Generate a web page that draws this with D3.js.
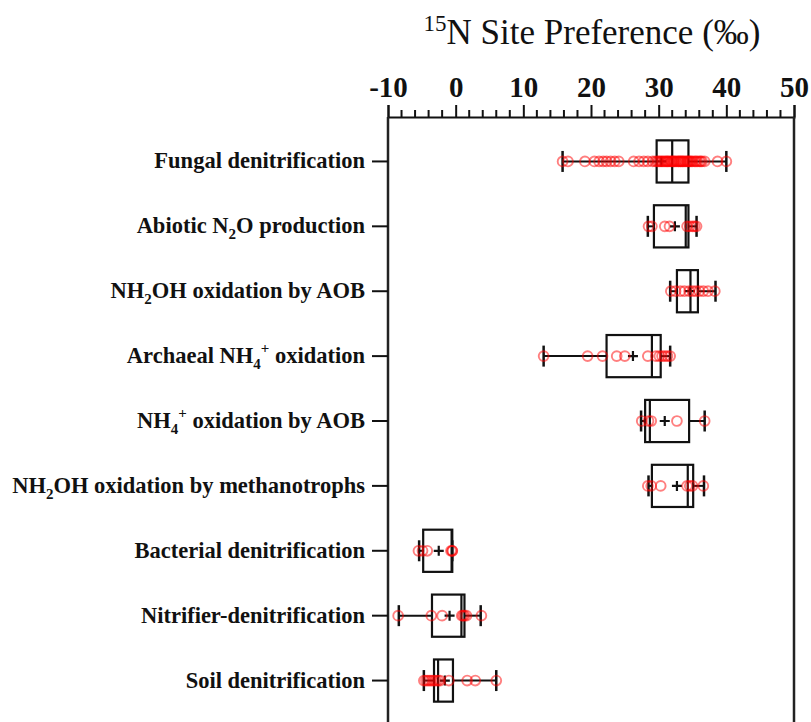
<!DOCTYPE html>
<html>
<head>
<meta charset="utf-8">
<script src="https://cdn.jsdelivr.net/npm/d3@7"></script>
<style>
  body { margin: 0; background: #fff; }
  svg { display: block; font-family: "Liberation Serif", "Times New Roman", serif; }
</style>
</head>
<body>
<div id="chart"></div>
<script>
// categories, "_x" = subscript, "^x" = superscript
var categories = [
  "Fungal denitrification",
  "Abiotic N_2O production",
  "NH_2OH oxidation by AOB",
  "Archaeal NH_4^+ oxidation",
  "NH_4^+ oxidation by AOB",
  "NH_2OH oxidation by methanotrophs",
  "Bacterial denitrification",
  "Nitrifier-denitrification",
  "Soil denitrification"
];

var whiskerLow  = [15.8, 28.4, 31.7, 13.0, 27.4, 28.5, -5.4, -8.4, -4.7];
var q1          = [29.7, 29.3, 32.7, 22.3, 28.0, 29.0, -4.8, -3.5, -3.2];
var median      = [32.0, 34.0, 34.7, 29.0, 28.7, 34.3, -0.6, 0.85, -2.6];
var q3          = [34.4, 34.4, 35.8, 30.3, 34.5, 35.1, -0.5, 1.3, -0.4];
var whiskerHigh = [40.0, 35.6, 38.4, 31.7, 36.8, 36.7, -0.5, 3.7, 6.0];
var means       = [30.4, 32.4, 34.6, 26.2, 30.9, 32.7, -2.5, -0.9, -1.6];

var points = [
  [15.8, 16.6, 19.1, 20.5, 21.2, 21.8, 22.3, 22.9, 23.5, 24.1, 26.3, 27.1, 27.8, 28.4, 29.1,
   29.5, 29.8, 30.0, 30.2, 30.4, 30.6, 30.8, 31.0, 31.2, 31.3, 31.5, 31.7, 31.9, 32.0, 32.2,
   32.3, 32.5, 32.7, 32.9, 33.0, 33.2, 33.3, 33.5, 33.6, 33.8, 34.0, 34.2, 34.3, 34.5, 34.6,
   34.8, 35.0, 35.3, 35.5, 35.7, 36.0, 36.2, 36.4, 36.8, 38.7, 40.0],
  [28.5, 29.0, 30.9, 31.6, 34.2, 34.6, 35.0, 35.3, 35.6],
  [31.8, 32.5, 33.2, 33.8, 34.5, 35.0, 35.5, 36.0, 36.6, 37.3, 38.3],
  [13.0, 19.5, 21.7, 23.8, 25.0, 28.4, 29.6, 30.1, 30.5, 30.9, 31.3, 31.7],
  [27.5, 28.5, 28.9, 32.7, 36.8],
  [28.4, 28.9, 30.3, 34.2, 34.6, 35.0, 36.6],
  [-5.5, -4.9, -4.2, -0.7, -0.5, -0.5],
  [-8.5, -3.6, -2.0, 0.9, 1.1, 1.3, 1.6, 3.8],
  [-4.7, -4.4, -4.1, -3.8, -3.5, -3.2, -2.9, -2.6, -2.3, -1.0, 1.7, 2.9, 6.0]
];

var xTicks = [-10, 0, 10, 20, 30, 40, 50];

var width = 811, height = 722;
var margin = { top: 117, left: 388, right: 17 };

var svg = d3.select('#chart').append('svg')
  .attr('width', width)
  .attr('height', height);

var x = d3.scaleLinear()
  .domain([-10, 50])
  .range([margin.left, width - margin.right]);

var y = d3.scaleBand()
  .domain(categories)
  .range([129, 713]);

var boxH = y.step() * 0.65;
var capH = 21;

// minor ticks every 2
var minor = d3.range(-10, 50.01, 2).filter(v => xTicks.indexOf(v) < 0);
svg.append('g').selectAll('line')
  .data(minor)
  .enter().append('line')
  .attr('x1', d => x(d)).attr('x2', d => x(d))
  .attr('y1', margin.top).attr('y2', margin.top - 7)
  .attr('stroke', '#111').attr('stroke-width', 2);

var xAxis = svg.append('g')
  .attr('transform', 'translate(0,' + margin.top + ')')
  .call(d3.axisTop(x).tickValues(xTicks).tickFormat(d => String(d))
    .tickSize(12).tickSizeOuter(12).tickPadding(8));
xAxis.selectAll('line, path').attr('stroke', '#111').attr('stroke-width', 2);
xAxis.selectAll('text')
  .attr('fill', '#111')
  .style('font-family', '"Liberation Serif", "Times New Roman", serif')
  .style('font-weight', 'bold')
  .style('font-size', '29px');

// frame sides
svg.append('g').selectAll('line')
  .data([-10, 50])
  .enter().append('line')
  .attr('x1', d => x(d)).attr('x2', d => x(d))
  .attr('y1', margin.top).attr('y2', height)
  .attr('stroke', '#222').attr('stroke-width', 2.5);

// left axis with rich labels
var yAxis = svg.append('g')
  .attr('transform', 'translate(' + margin.left + ',0)')
  .call(d3.axisLeft(y).tickSize(16).tickPadding(7));
yAxis.select('.domain').remove();
yAxis.selectAll('line').attr('stroke', '#111').attr('stroke-width', 2);
yAxis.selectAll('text').each(function(d) {
  var t = d3.select(this).text(null)
    .attr('fill', '#111')
    .attr('dy', null)
    .attr('y', 7)
    .style('font-family', '"Liberation Serif", "Times New Roman", serif')
    .style('font-weight', 'bold')
    .style('font-size', '22.5px');
  var parts = d.split(/(_[^ ^_]|\^[^ ^_])/).filter(s => s.length);
  var shift = 0;
  parts.forEach(function(p) {
    var target = 0, txt = p, small = false;
    if (p[0] === '_') { target = 6; txt = p.slice(1); small = true; }
    else if (p[0] === '^') { target = -10; txt = p.slice(1); small = true; }
    t.append('tspan')
      .attr('dy', target - shift)
      .style('font-size', small ? '15px' : null)
      .text(txt);
    shift = target;
  });
});

// boxes
var rows = categories.map((c, i) => ({
  cat: c, lo: whiskerLow[i], q1: q1[i], med: median[i], q3: q3[i],
  hi: whiskerHigh[i], mean: means[i], pts: points[i]
}));

var g = svg.selectAll('.box')
  .data(rows)
  .enter().append('g')
  .attr('class', 'box')
  .attr('transform', d => 'translate(0,' + (y(d.cat) + y.bandwidth() / 2) + ')');

g.append('line')
  .attr('x1', d => x(d.lo)).attr('x2', d => x(d.q1))
  .attr('y1', 0).attr('y2', 0)
  .attr('stroke', '#111').attr('stroke-width', 2);
g.append('line')
  .attr('x1', d => x(d.q3)).attr('x2', d => x(d.hi))
  .attr('y1', 0).attr('y2', 0)
  .attr('stroke', '#111').attr('stroke-width', 2);
g.selectAll('.cap')
  .data(d => [d.lo, d.hi])
  .enter().append('line')
  .attr('class', 'cap')
  .attr('x1', v => x(v)).attr('x2', v => x(v))
  .attr('y1', -capH / 2).attr('y2', capH / 2)
  .attr('stroke', '#111').attr('stroke-width', 2.5);

g.append('rect')
  .attr('x', d => x(d.q1))
  .attr('width', d => x(d.q3) - x(d.q1))
  .attr('y', -boxH / 2)
  .attr('height', boxH)
  .attr('fill', 'none')
  .attr('stroke', '#111').attr('stroke-width', 2.2);
g.append('line')
  .attr('x1', d => x(d.med)).attr('x2', d => x(d.med))
  .attr('y1', -boxH / 2).attr('y2', boxH / 2)
  .attr('stroke', '#111').attr('stroke-width', 2.2);

// mean cross
g.append('path')
  .attr('d', d => {
    var cx = x(d.mean);
    return 'M' + (cx - 5) + ',0H' + (cx + 5) + 'M' + cx + ',-5V5';
  })
  .attr('stroke', '#111').attr('stroke-width', 2.2);

// data points
g.selectAll('circle')
  .data(d => d.pts)
  .enter().append('circle')
  .attr('cx', v => x(v))
  .attr('cy', 0)
  .attr('r', 4.9)
  .attr('fill', 'none')
  .attr('stroke', 'red')
  .attr('stroke-opacity', 0.5)
  .attr('stroke-width', 1.9);

// title
var title = svg.append('text')
  .attr('x', 592)
  .attr('y', 44)
  .attr('text-anchor', 'middle')
  .attr('fill', '#111')
  .style('font-size', '35px');
title.append('tspan').attr('dy', -13).style('font-size', '23px').text('15');
title.append('tspan').attr('dy', 13).text('N Site Preference (‰)');
</script>
</body>
</html>
